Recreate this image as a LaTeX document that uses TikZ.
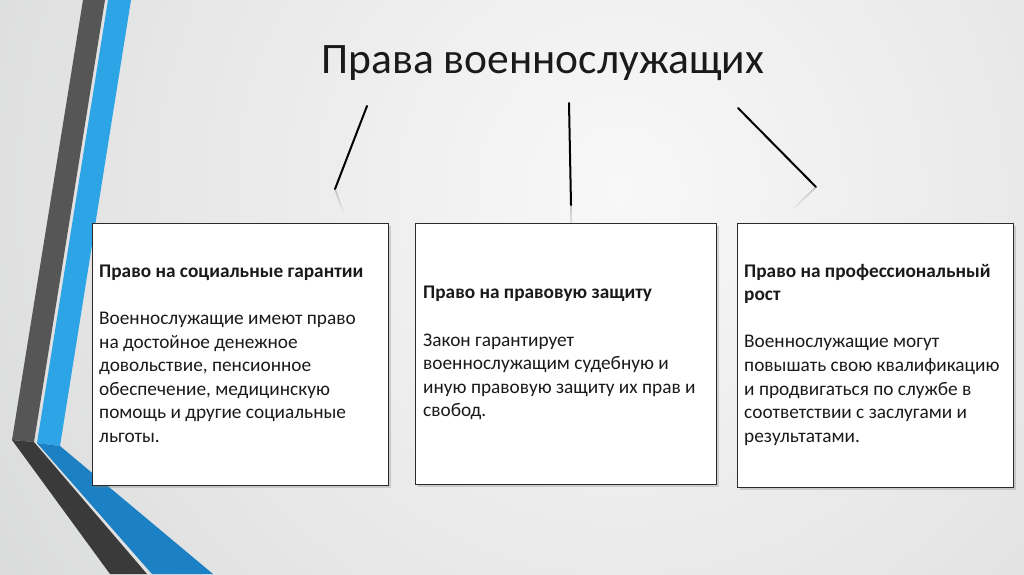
\documentclass[tikz,border=0pt]{standalone}
\usepackage{fontspec}
\setmainfont{Carlito}
\usetikzlibrary{shadows,calc}
\definecolor{bgA}{HTML}{F8F8F8}
\definecolor{bgB}{HTML}{E6E6E6}
\definecolor{bgC}{HTML}{C8CACB}
\definecolor{bgD}{HTML}{B0B3B5}
\definecolor{darkA}{HTML}{565656}
\definecolor{darkB}{HTML}{3A3A3A}
\definecolor{blueA}{HTML}{2CA4E6}
\definecolor{blueB}{HTML}{1B80C4}
\definecolor{txt}{HTML}{1A1A1A}
\definecolor{frame}{HTML}{2B2B2B}
\pgfdeclareradialshading{bgshade}{\pgfpoint{0bp}{0bp}}{color(0bp)=(bgA); color(12bp)=(bgB); color(28bp)=(bgC); color(38bp)=(bgD); color(50bp)=(bgD)}
\tikzset{
  box/.style={draw=frame, line width=1.3pt, fill=white, anchor=north west, inner sep=0pt,
    drop shadow={shadow xshift=2.5pt, shadow yshift=-2.5pt, opacity=0.3, fill=gray}},
  boxtext/.style={anchor=west, inner sep=0pt, align=left, text=txt,
    font=\fontsize{19.3}{23.6}\selectfont},
  conn/.style={line width=2pt, black, line cap=round},
  refl/.style={line width=1.6pt, gray}
}
\begin{document}
\begin{tikzpicture}[x=1pt,y=-1pt]
\useasboundingbox (0,0) rectangle (1024,574);
\begin{scope}
\clip (0,0) rectangle (1024,574);
\shade[shading=bgshade] (620-1000,190-1000) rectangle (620+1000,190+1000);
% decorative stripes
\fill[darkA] (83,0) -- (105,0) -- (34,442) -- (12,440) -- cycle;
\fill[blueA] (108,0) -- (131,0) -- (60,446) -- (37,443) -- cycle;
\fill[darkB] (12,440) -- (34,442) -- (147,574) -- (110,574) -- cycle;
\fill[blueB] (37,443) -- (60,446) -- (213,574) -- (152,574) -- cycle;
\end{scope}

\node[text=txt, font=\fontsize{43.5}{50}\selectfont] (title) at (543,63) {Права военнослужащих};

% connector lines
\coordinate (l1a) at (367,106); \coordinate (l1b) at (335,189); \coordinate (r1) at (344,214);
\coordinate (l2a) at (569,103); \coordinate (l2b) at (571,205); \coordinate (r2) at (571,236);
\coordinate (l3a) at (738,108); \coordinate (l3b) at (816,187); \coordinate (r3) at (792,210);
\foreach \s/\e in {l1b/r1, l2b/r2, l3b/r3}{
  \foreach \i in {0,...,9}{
    \draw[refl, opacity={0.4*(1-\i/10)}] ($(\s)!\i/10!(\e)$) -- ($(\s)!{(\i+1)/10}!(\e)$);
  }
}
\draw[conn] (l1a) -- (l1b);
\draw[conn] (l2a) -- (l2b);
\draw[conn] (l3a) -- (l3b);

% boxes
\node[box, minimum width=296pt, minimum height=262pt] (b1) at (92,223) {};
\node[boxtext] (t1) at ([xshift=7pt,yshift=1pt]b1.west)
{\textbf{Право на социальные гарантии}\\[23.6pt]
Военнослужащие имеют право\\
на достойное денежное\\
довольствие, пенсионное\\
обеспечение, медицинскую\\
помощь и другие социальные\\
льготы.};
\node[box, minimum width=301pt, minimum height=261pt] (b2) at (415,223) {};
\node[boxtext] (t2) at ([xshift=8pt,yshift=1pt]b2.west)
{\textbf{Право на правовую защиту}\\[23.6pt]
Закон гарантирует\\
военнослужащим судебную и\\
иную правовую защиту их прав и\\
свобод.};
\node[box, minimum width=276pt, minimum height=264pt] (b3) at (737,223) {};
\node[boxtext] (t3) at ([xshift=7pt,yshift=1pt]b3.west)
{\textbf{Право на профессиональный}\\
\textbf{рост}\\[23.6pt]
Военнослужащие могут\\
повышать свою квалификацию\\
и продвигаться по службе в\\
соответствии с заслугами и\\
результатами.};
\end{tikzpicture}
\end{document}
